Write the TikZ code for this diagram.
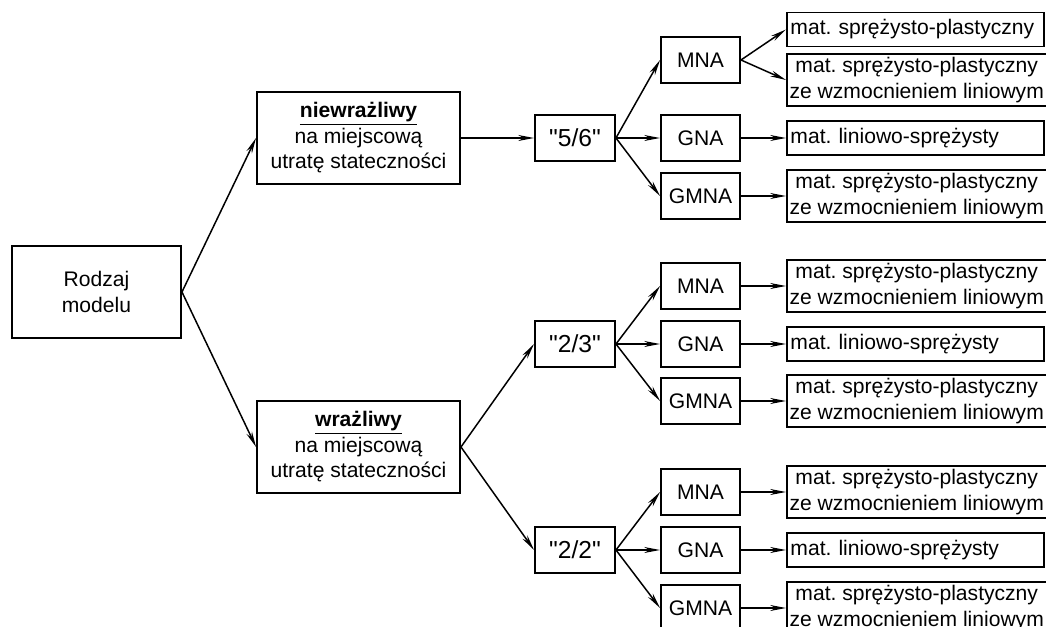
\documentclass[tikz,border=0pt]{standalone}
\usepackage{fontspec}
\setmainfont{Liberation Sans}
\newfontfamily\fracfont{Liberation Sans}
\usetikzlibrary{arrows.meta, positioning}
\frenchspacing

\tikzset{
  box/.style={draw, line width=1.1pt, inner sep=2pt, font=\fontsize{12}{14.5}\selectfont, align=center},
  mainbox/.style={box, minimum width=4.06cm, minimum height=1.84cm},
  fracbox/.style={box, minimum width=1.6cm, minimum height=0.92cm, font=\fracfont\fontsize{14}{16}\selectfont},
  methbox/.style={box, minimum width=1.58cm, minimum height=0.92cm},
  matone/.style={box, anchor=west, text width=5.0cm, align=left, minimum height=0.68cm, inner xsep=2pt},
  mattwo/.style={box, anchor=west, minimum width=5.16cm, minimum height=1.04cm, inner xsep=1.5pt},
  arr/.style={-{Stealth[length=9pt, width=3.4pt]}, line width=0.85pt}
}

\begin{document}
\begin{tikzpicture}
  \useasboundingbox (0, 0) rectangle (20.92, -12.54);

  % Model
  \node[box, minimum width=3.38cm, minimum height=1.84cm] (root) at (1.93, -5.84) {Rodzaj\\modelu};
  \node[mainbox] (niew) at (7.17, -2.76) {\underline{\textbf{niewrażliwy}}\\na miejscową\\utratę stateczności};
  \node[mainbox] (wraz) at (7.17, -8.94) {\underline{\textbf{wrażliwy}}\\na miejscową\\utratę stateczności};

  \draw[arr] (root.east) -- (niew.west);
  \draw[arr] (root.east) -- (wraz.west);

  % Classes
  \node[fracbox] (f56) at (11.5, -2.76) {"5/6"};
  \node[fracbox] (f23) at (11.5, -6.88) {"2/3"};
  \node[fracbox] (f22) at (11.5, -11.0) {"2/2"};

  \draw[arr] (niew) -- (f56);
  \draw[arr] (wraz.east) -- (f23.west);
  \draw[arr] (wraz.east) -- (f22.west);

  % Analyses
  \node[methbox] (mna1) at (14.01, -1.2) {MNA};
  \node[methbox] (gna1) at (14.01, -2.76) {GNA};
  \node[methbox] (gmna1) at (14.01, -3.92) {GMNA};
  \node[methbox] (mna2) at (14.01, -5.72) {MNA};
  \node[methbox] (gna2) at (14.01, -6.88) {GNA};
  \node[methbox] (gmna2) at (14.01, -8.02) {GMNA};
  \node[methbox] (mna3) at (14.01, -9.84) {MNA};
  \node[methbox] (gna3) at (14.01, -11.0) {GNA};
  \node[methbox] (gmna3) at (14.01, -12.16) {GMNA};

  \draw[arr] (f56.east) -- (mna1.west);
  \draw[arr] (f56) -- (gna1);
  \draw[arr] (f56.east) -- (gmna1.west);
  \draw[arr] (f23.east) -- (mna2.west);
  \draw[arr] (f23) -- (gna2);
  \draw[arr] (f23.east) -- (gmna2.west);
  \draw[arr] (f22.east) -- (mna3.west);
  \draw[arr] (f22) -- (gna3);
  \draw[arr] (f22.east) -- (gmna3.west);

  % Materials
  \node[matone] (mat1a) at (15.72, -0.59) {mat. sprężysto-plastyczny};
  \node[mattwo] (mat1b) at (15.72, -1.6) {mat. sprężysto-plastyczny\\ze wzmocnieniem liniowym};
  \node[matone] (mat1c) at (15.72, -2.76) {mat. liniowo-sprężysty};
  \node[mattwo] (mat1d) at (15.72, -3.92) {mat. sprężysto-plastyczny\\ze wzmocnieniem liniowym};
  \node[mattwo] (mat2a) at (15.72, -5.72) {mat. sprężysto-plastyczny\\ze wzmocnieniem liniowym};
  \node[matone] (mat2b) at (15.72, -6.88) {mat. liniowo-sprężysty};
  \node[mattwo] (mat2c) at (15.72, -8.02) {mat. sprężysto-plastyczny\\ze wzmocnieniem liniowym};
  \node[mattwo] (mat3a) at (15.72, -9.84) {mat. sprężysto-plastyczny\\ze wzmocnieniem liniowym};
  \node[matone] (mat3b) at (15.72, -11.0) {mat. liniowo-sprężysty};
  \node[mattwo] (mat3c) at (15.72, -12.16) {mat. sprężysto-plastyczny\\ze wzmocnieniem liniowym};

  \draw[arr] (mna1.east) -- (mat1a.west);
  \draw[arr] (mna1.east) -- (mat1b.west);
  \draw[arr] (gna1) -- (mat1c);
  \draw[arr] (gmna1) -- (mat1d);
  \draw[arr] (mna2) -- (mat2a);
  \draw[arr] (gna2) -- (mat2b);
  \draw[arr] (gmna2) -- (mat2c);
  \draw[arr] (mna3) -- (mat3a);
  \draw[arr] (gna3) -- (mat3b);
  \draw[arr] (gmna3) -- (mat3c);
\end{tikzpicture}
\end{document}
